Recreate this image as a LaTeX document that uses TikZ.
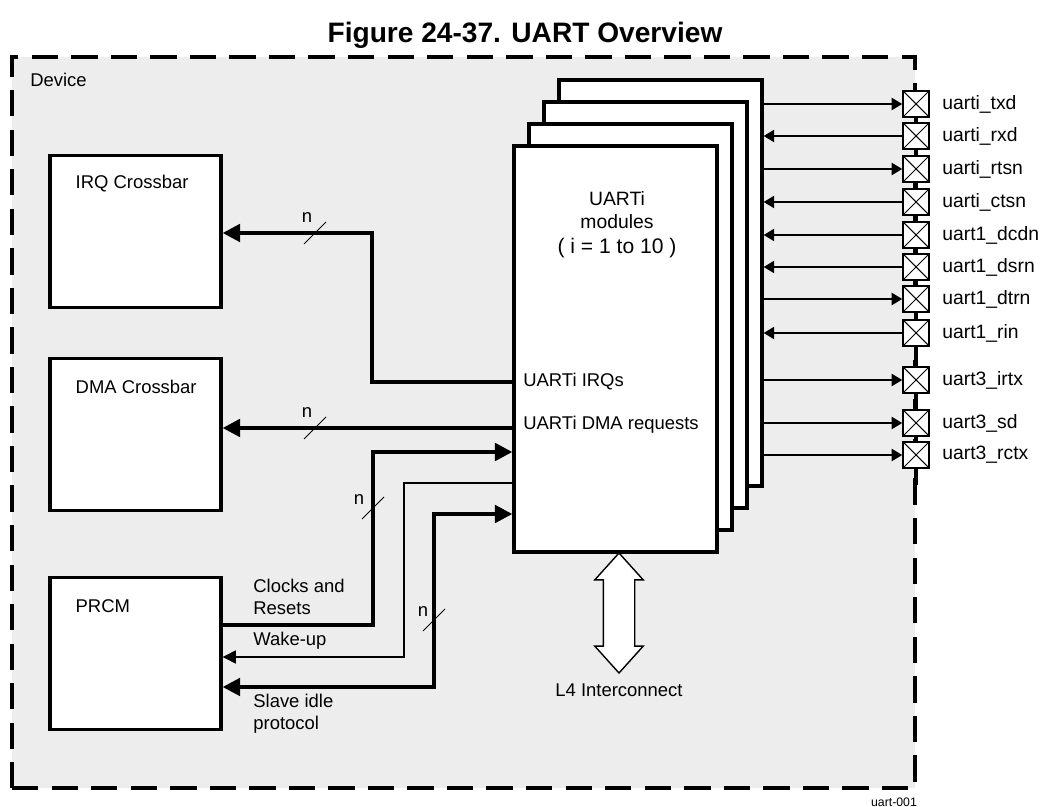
\documentclass[tikz,border=0pt]{standalone}
\usepackage{fontspec}
\setmainfont{Liberation Sans}
\usetikzlibrary{positioning, shapes.arrows, arrows.meta}

\begin{document}
\begin{tikzpicture}[
  >=Latex,
  devbox/.style={draw, line width=2.3pt, dash pattern=on 15pt off 7.5pt, fill=black!7, minimum width=18.06cm, minimum height=14.62cm},
  blockbox/.style={draw, line width=1.9pt, fill=white, minimum width=3.42cm, minimum height=3.04cm},
  modbox/.style={draw, line width=1.9pt, fill=white, minimum width=4.06cm, minimum height=8.12cm},
  txt/.style={font=\fontsize{10.5}{12.4}\selectfont, align=left, inner sep=0pt},
  padtxt/.style={txt, font=\fontsize{11}{13}\selectfont},
  padbox/.style={draw, line width=0.9pt, fill=white, minimum size=0.52cm, inner sep=0pt,
    path picture={\draw[line width=0.6pt] (path picture bounding box.north west) -- (path picture bounding box.south east)
      (path picture bounding box.south west) -- (path picture bounding box.north east);}},
  bus/.style={line width=2.2pt},
  bushead/.style={-{Triangle[length=10pt,width=10pt]}},
  sigarrow/.style={line width=0.85pt, -{Triangle[length=6pt,width=7pt]}},
  wake/.style={line width=0.6pt, -{Triangle[length=7.5pt,width=7.5pt]}},
  busmark/.style={line width=0.6pt}
]
  \useasboundingbox (0,0) rectangle (21,-16.14);

  \node[font=\fontsize{16}{18}\selectfont\bfseries] (title) at (10.5,-0.7) {Figure 24-37. UART Overview};

  %---------------- DEVICE ----------------%
  \node[devbox] (device) at (9.27,-8.45) {};
  \node[txt, anchor=west] (devlbl) at ([shift={(0.4,-0.5)}]device.north west) {Device};
  \node[font=\fontsize{7}{8}\selectfont] (figid) at (17.88,-16.04) {uart-001};

  %---------------- LEFT BLOCKS ----------------%
  \node[blockbox] (irq) at (2.71,-4.63) {};
  \node[blockbox, below=0.95cm of irq] (dma) {};
  \node[blockbox, below=1.28cm of dma] (prcm) {};
  \node[txt, anchor=west] at ([shift={(0.54,-0.6)}]irq.north west) {IRQ Crossbar};
  \node[txt, anchor=west] at ([shift={(0.54,-0.6)}]dma.north west) {DMA Crossbar};
  \node[txt, anchor=west] at ([shift={(0.54,-0.6)}]prcm.north west) {PRCM};

  %---------------- UART MODULES ----------------%
  \node[modbox] (uartmod4) at (13.21,-5.66) {};
  \node[modbox] (uartmod3) at (12.91,-6.10) {};
  \node[modbox] (uartmod2) at (12.61,-6.54) {};
  \node[modbox] (uartmod1) at (12.31,-6.98) {};
  \node[txt, align=center, font=\fontsize{11}{12.6}\selectfont] (modtxt) at (12.34,-4.5) {UARTi\\modules\\[2pt]{\fontsize{12}{13}\selectfont ( i = 1 to 10 )}};
  \node[txt, anchor=west] (irqlbl) at (10.46,-7.64) {UARTi IRQs};
  \node[txt, anchor=west] (dmalbl) at (10.46,-8.5) {UARTi DMA requests};

  \node[double arrow, draw, fill=white, line width=0.8pt, rotate=90, minimum height=2.4cm,
    inner xsep=0pt, inner ysep=0.3cm, double arrow head extend=0.17cm, double arrow tip angle=84] (l4) at (12.38,-12.26) {};
  \node[txt] (l4lbl) at (12.38,-13.8) {L4 Interconnect};

  %---------------- PADS ----------------%
  \draw[bus] (18.32,-1.82) -- (18.32,-9.70);
  \foreach \lbl/\yy/\from/\to [count=\k] in {uarti\_txd/-2.08/tap/pad, uarti\_rxd/-2.72/pad/tap,
      uarti\_rtsn/-3.38/tap/pad, uarti\_ctsn/-4.04/pad/tap, uart1\_dcdn/-4.70/pad/tap,
      uart1\_dsrn/-5.34/pad/tap, uart1\_dtrn/-5.98/tap/pad, uart1\_rin/-6.66/pad/tap,
      uart3\_irtx/-7.60/tap/pad, uart3\_sd/-8.46/tap/pad, uart3\_rctx/-9.10/tap/pad}{
    \node[padbox] (pad\k) at (18.32,\yy) {};
    \node[padtxt, anchor=west] (padlbl\k) at (18.84,\yy) {\lbl};
    \coordinate (tap\k) at (pad\k.west -| uartmod4.east);
    \draw[sigarrow] (\from\k) -- (\to\k);
  }

  %---------------- BUSES ----------------%
  \coordinate (irqbend) at (7.44,-4.66);
  \draw[bus, bushead] (irqlbl.west -| uartmod1.west) -| (irqbend) -- (irqbend -| irq.east);
  \draw[busmark] (6.08,-4.88) -- ++(0.44,0.44);
  \node[txt] (nirq) at (6.14,-4.36) {n};

  \draw[bus, bushead] (uartmod1.west |- 0,-8.56) -- (dma.east |- 0,-8.56);
  \draw[busmark] (6.08,-8.78) -- ++(0.44,0.44);
  \node[txt] (ndma) at (6.14,-8.26) {n};

  \coordinate (clkbend) at (7.46,-9.04);
  \draw[bus, bushead] (prcm.east |- 0,-12.5) -| (clkbend) -- (clkbend -| uartmod1.west);
  \draw[busmark] (7.24,-10.38) -- ++(0.44,0.44);
  \node[txt] (nclk) at (7.18,-10.0) {n};

  \coordinate (wakebend) at (8.08,-9.66);
  \draw[wake] (wakebend -| uartmod1.west) -- (wakebend) |- (prcm.east |- 0,-13.14);

  \coordinate (idlebend) at (8.68,-10.28);
  \draw[bus, {Triangle[length=10pt,width=10pt]}-{Triangle[length=10pt,width=10pt]}]
    (idlebend -| uartmod1.west) -- (idlebend) |- (prcm.east |- 0,-13.74);
  \draw[busmark] (8.46,-12.62) -- ++(0.44,0.44);
  \node[txt] (nidle) at (8.46,-12.24) {n};

  \node[txt, anchor=west] (clklbl) at (5.06,-11.94) {Clocks and\\Resets};
  \node[txt, anchor=west] (wakelbl) at (5.06,-12.82) {Wake-up};
  \node[txt, anchor=west] (idlelbl) at (5.06,-14.27) {Slave idle\\protocol};

\end{tikzpicture}
\end{document}
